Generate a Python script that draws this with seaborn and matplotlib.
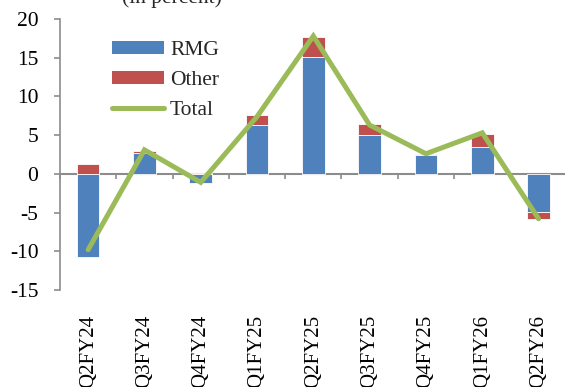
import matplotlib
matplotlib.use("Agg")
import matplotlib.pyplot as plt
from matplotlib.patches import Patch
from matplotlib.lines import Line2D
import seaborn as sns
import numpy as np
import pandas as pd

# quarterly growth contributions (in percent)
quarters = ["Q2FY24", "Q3FY24", "Q4FY24", "Q1FY25", "Q2FY25",
            "Q3FY25", "Q4FY25", "Q1FY26", "Q2FY26"]
rmg = [-10.8, 2.7, -1.2, 6.3, 15.1, 5.0, 2.5, 3.5, -4.9]
other = [1.3, 0.3, 0.1, 1.3, 2.6, 1.4, 0.1, 1.6, -0.9]
total = [-9.8, 3.1, -1.1, 7.4, 17.8, 6.3, 2.6, 5.3, -5.8]

BLUE = "#4F81BD"
RED = "#C0504D"
GREEN = "#9BBB59"
GREY = "#8C8C8C"

sns.set_theme(style="white")
plt.rcParams["font.family"] = ["Liberation Serif", "DejaVu Serif"]
plt.rcParams["axes.unicode_minus"] = False

df = pd.DataFrame({"quarter": quarters, "rmg": rmg, "other": other, "total": total})
# stack the "other" part on top of rmg when both have the same sign
df["base"] = np.where(np.sign(df["rmg"]) == np.sign(df["other"]), df["rmg"], 0.0)

fig = plt.figure(figsize=(5.65, 3.87), dpi=100)
ax = fig.add_axes([60 / 565, 1 - 290 / 387, 506.7 / 565, 271 / 387])

sns.barplot(data=df, x="quarter", y="rmg", color=BLUE, saturation=1,
            width=0.4, edgecolor="white", linewidth=0.6, ax=ax)
ax.bar(np.arange(len(df)), df["other"], bottom=df["base"], width=0.4,
       color=RED, edgecolor="white", linewidth=0.6)
ax.plot(np.arange(len(df)), df["total"], color=GREEN, lw=3.6,
        solid_joinstyle="miter", zorder=5)

ax.set_xlim(-0.5, len(df) - 0.5)
ax.set_ylim(-15, 20)
ax.set_yticks(range(-15, 21, 5))
ax.set_xlabel("")
ax.set_ylabel("")

for s in ["top", "right", "bottom"]:
    ax.spines[s].set_visible(False)
ax.spines["left"].set_color(GREY)
ax.spines["left"].set_linewidth(1.2)

ax.tick_params(axis="y", which="both", left=True, length=4.5, width=1.2,
               color=GREY, pad=11, labelsize=15.5, labelcolor="black")
ax.tick_params(axis="x", length=0, pad=18, labelsize=15, labelrotation=90,
               labelcolor="black")

# zero line with ticks at category boundaries
zero = ax.secondary_xaxis(15 / 35)
zero.set_xticks(np.arange(-0.5, len(df), 1.0))
zero.tick_params(axis="x", direction="out", length=3.5, width=1.2,
                 color=GREY, labelbottom=False, labeltop=False)
zero.spines["bottom"].set_color(GREY)
zero.spines["bottom"].set_linewidth(1.5)
zero.spines["top"].set_visible(False)

handles = [Patch(facecolor=BLUE, edgecolor="none"),
           Patch(facecolor=RED, edgecolor="none"),
           Line2D([], [], color=GREEN, lw=3.6)]
ax.legend(handles, ["RMG", "Other", "Total"], loc="upper left",
          bbox_to_anchor=((112 - 60) / 506.7, 1 - 22 / 271), frameon=False,
          fontsize=15.5, handlelength=2.4, handleheight=0.55, handletextpad=0.3,
          labelspacing=0.5, borderpad=0, borderaxespad=0)

fig.text(172 / 565, 1 - 8 / 387, "(in percent)", ha="center", va="bottom",
         fontsize=15.5)

fig.savefig("out.png", dpi=100)
